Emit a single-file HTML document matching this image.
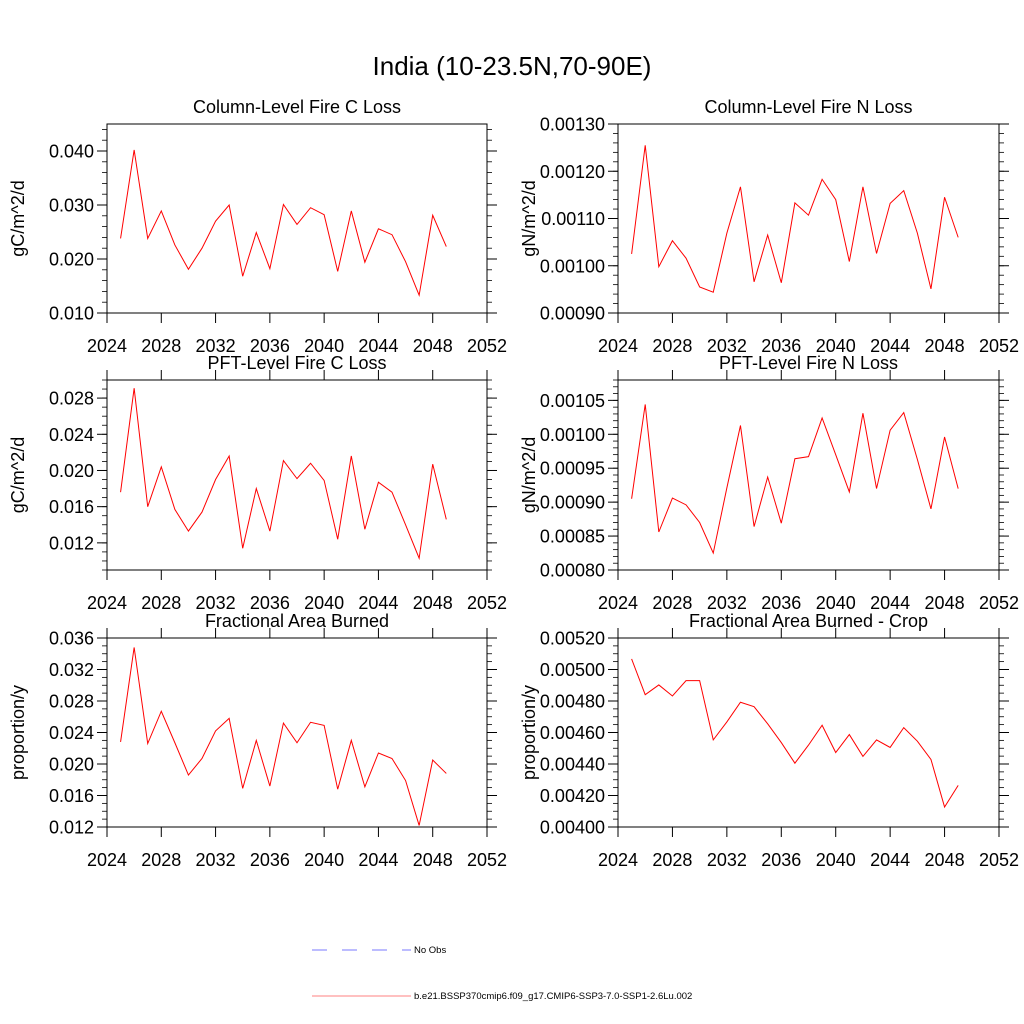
<!DOCTYPE html>
<html><head><meta charset="utf-8">
<style>
html,body{margin:0;padding:0;background:#fff;}
svg{display:block;font-family:"Liberation Sans",Arial,sans-serif;}
</style></head>
<body>
<svg id="fig" width="1024" height="1024" viewBox="0 0 1024 1024" xmlns="http://www.w3.org/2000/svg">
<rect width="1024" height="1024" fill="#fff"/>
<text x="512" y="75" font-size="26" text-anchor="middle">India (10-23.5N,70-90E)</text>
<g>
<line x1="312" y1="950" x2="411" y2="950" stroke="#7a7aff" stroke-width="1" stroke-dasharray="15,15"/>
<text x="414" y="953" font-size="9.5">No Obs</text>
<line x1="312" y1="996" x2="411" y2="996" stroke="#ff8080" stroke-width="1"/>
<text x="414" y="999" font-size="9.5">b.e21.BSSP370cmip6.f09_g17.CMIP6-SSP3-7.0-SSP1-2.6Lu.002</text>
</g>
</svg>
<script>
const years = [2025,2026,2027,2028,2029,2030,2031,2032,2033,2034,2035,2036,2037,2038,2039,2040,2041,2042,2043,2044,2045,2046,2047,2048,2049];
const xTicks = [2024,2028,2032,2036,2040,2044,2048,2052];
const colCLoss = [0.0238,0.0402,0.0238,0.0289,0.0226,0.0181,0.0220,0.0270,0.0300,0.0168,0.0249,0.0182,0.0301,0.0264,0.0295,0.0282,0.0177,0.0289,0.0194,0.0256,0.0245,0.0195,0.0133,0.0281,0.0223];
const colNLoss = [0.001025,0.001255,0.000998,0.001053,0.001016,0.000955,0.000944,0.001069,0.001167,0.000966,0.001065,0.000964,0.001133,0.001107,0.001183,0.001140,0.001009,0.001167,0.001026,0.001132,0.001159,0.001069,0.000951,0.001145,0.001060];
const pftCLoss = [0.0176,0.0291,0.0160,0.0204,0.0157,0.0133,0.0154,0.0190,0.0216,0.0114,0.0180,0.0133,0.0211,0.0191,0.0208,0.0189,0.0124,0.0216,0.0135,0.0187,0.0176,0.0140,0.0103,0.0207,0.0146];
const pftNLoss = [0.000905,0.001044,0.000856,0.000906,0.000896,0.000870,0.000825,0.000921,0.001013,0.000864,0.000937,0.000869,0.000964,0.000967,0.001024,0.000970,0.000915,0.001031,0.000920,0.001006,0.001032,0.000963,0.000890,0.000996,0.000920];
const areaBurned = [0.0228,0.0348,0.0226,0.0267,0.0227,0.0186,0.0207,0.0242,0.0258,0.0169,0.0230,0.0172,0.0252,0.0227,0.0253,0.0249,0.0168,0.0230,0.0171,0.0214,0.0207,0.0179,0.0122,0.0205,0.0188];
const areaBurnedCrop = [0.005067,0.004840,0.004902,0.004832,0.004929,0.004929,0.004553,0.004667,0.004792,0.004764,0.004655,0.004536,0.004405,0.004520,0.004646,0.004473,0.004587,0.004448,0.004553,0.004505,0.004631,0.004545,0.004429,0.004127,0.004264];
const ticksCC = ["0.010","0.020","0.030","0.040"];
const ticksCN = ["0.00090","0.00100","0.00110","0.00120","0.00130"];
const ticksPC = ["0.012","0.016","0.020","0.024","0.028"];
const ticksPN = ["0.00080","0.00085","0.00090","0.00095","0.00100","0.00105"];
const ticksAB = ["0.012","0.016","0.020","0.024","0.028","0.032","0.036"];
const ticksAC = ["0.00400","0.00420","0.00440","0.00460","0.00480","0.00500","0.00520"];

const NS="http://www.w3.org/2000/svg";
const svg=document.getElementById('fig');
function mk(tag,attrs,parent){const e=document.createElementNS(NS,tag);for(const k in attrs)e.setAttribute(k,attrs[k]);(parent||svg).appendChild(e);return e;}

const panels=[
 {name:'column-fire-c-loss',title:'Column-Level Fire C Loss',ylab:'gC/m^2/d',x0:107,x1:487,y0:124,y1:313,ymin:0.010,ymax:0.045,ticks:ticksCC,minor:0.002,data:colCLoss,topTicks:false},
 {name:'column-fire-n-loss',title:'Column-Level Fire N Loss',ylab:'gN/m^2/d',x0:618,x1:999,y0:124,y1:313,ymin:0.00090,ymax:0.00130,ticks:ticksCN,minor:0.00002,data:colNLoss,topTicks:false},
 {name:'pft-fire-c-loss',title:'PFT-Level Fire C Loss',ylab:'gC/m^2/d',x0:107,x1:487,y0:380,y1:570,ymin:0.009,ymax:0.030,ticks:ticksPC,minor:0.001,data:pftCLoss,topTicks:true},
 {name:'pft-fire-n-loss',title:'PFT-Level Fire N Loss',ylab:'gN/m^2/d',x0:618,x1:999,y0:380,y1:570,ymin:0.00080,ymax:0.00108,ticks:ticksPN,minor:0.00001,data:pftNLoss,topTicks:true},
 {name:'fractional-area-burned',title:'Fractional Area Burned',ylab:'proportion/y',x0:107,x1:487,y0:638,y1:827,ymin:0.012,ymax:0.036,ticks:ticksAB,minor:0.001,data:areaBurned,topTicks:true},
 {name:'fractional-area-burned-crop',title:'Fractional Area Burned - Crop',ylab:'proportion/y',x0:618,x1:999,y0:638,y1:827,ymin:0.00400,ymax:0.00520,ticks:ticksAC,minor:0.00005,data:areaBurnedCrop,topTicks:true}
];

panels.forEach(p=>{
 const g=mk('g',{});
 
 
 const X=v=>p.x0+(v-2024)/(2052-2024)*(p.x1-p.x0);
 const Y=v=>p.y1-(v-p.ymin)/(p.ymax-p.ymin)*(p.y1-p.y0);
 const frame=mk('rect',{x:p.x0,y:p.y0,width:p.x1-p.x0,height:p.y1-p.y0,fill:'none',stroke:'#000','stroke-width':1},g);
 
 
 // minor y ticks
 const nMin=Math.round((p.ymax-p.ymin)/p.minor);
 for(let i=0;i<=nMin;i++){
  const v=p.ymin+i*p.minor, y=Y(v);
  mk('line',{x1:p.x0-5,x2:p.x0,y1:y,y2:y,stroke:'#000','stroke-width':0.8},g);
  mk('line',{x1:p.x1,x2:p.x1+5,y1:y,y2:y,stroke:'#000','stroke-width':0.8},g);
 }
 // major y ticks + labels
 p.ticks.forEach(t=>{
  const y=Y(parseFloat(t));
  mk('line',{x1:p.x0-10,x2:p.x0,y1:y,y2:y,stroke:'#000','stroke-width':1},g);
  mk('line',{x1:p.x1,x2:p.x1+10,y1:y,y2:y,stroke:'#000','stroke-width':1},g);
  const tx=mk('text',{x:p.x0-13,y:y+6.5,'font-size':18,'text-anchor':'end'},g);
  
  
  tx.textContent=t;
 });
 // x ticks
 xTicks.forEach(t=>{
  const x=X(t);
  mk('line',{x1:x,x2:x,y1:p.y1,y2:p.y1+10,stroke:'#000','stroke-width':1},g);
  if(p.topTicks) mk('line',{x1:x,x2:x,y1:p.y0-10,y2:p.y0,stroke:'#000','stroke-width':1},g);
  const tx=mk('text',{x:x,y:p.y1+39,'font-size':18,'text-anchor':'middle'},g);
  
  
  tx.textContent=String(t);
 });
 // titles
 const tt=mk('text',{x:(p.x0+p.x1)/2,y:p.y0-11,'font-size':18,'text-anchor':'middle'},g);
 
 
 tt.textContent=p.title;
 const yc=(p.y0+p.y1)/2, xl=p.x0-83;
 const yt=mk('text',{x:xl,y:yc,'font-size':18,'text-anchor':'middle',transform:`rotate(-90 ${xl} ${yc})`},g);
 
 
 yt.textContent=p.ylab;
 // series
 const pts=years.map((yr,i)=>X(yr).toFixed(2)+','+Y(p.data[i]).toFixed(2)).join(' ');
 const pl=mk('polyline',{points:pts,fill:'none',stroke:'#ff0000','stroke-width':1},g);
 
 
});
</script>
</body></html>
